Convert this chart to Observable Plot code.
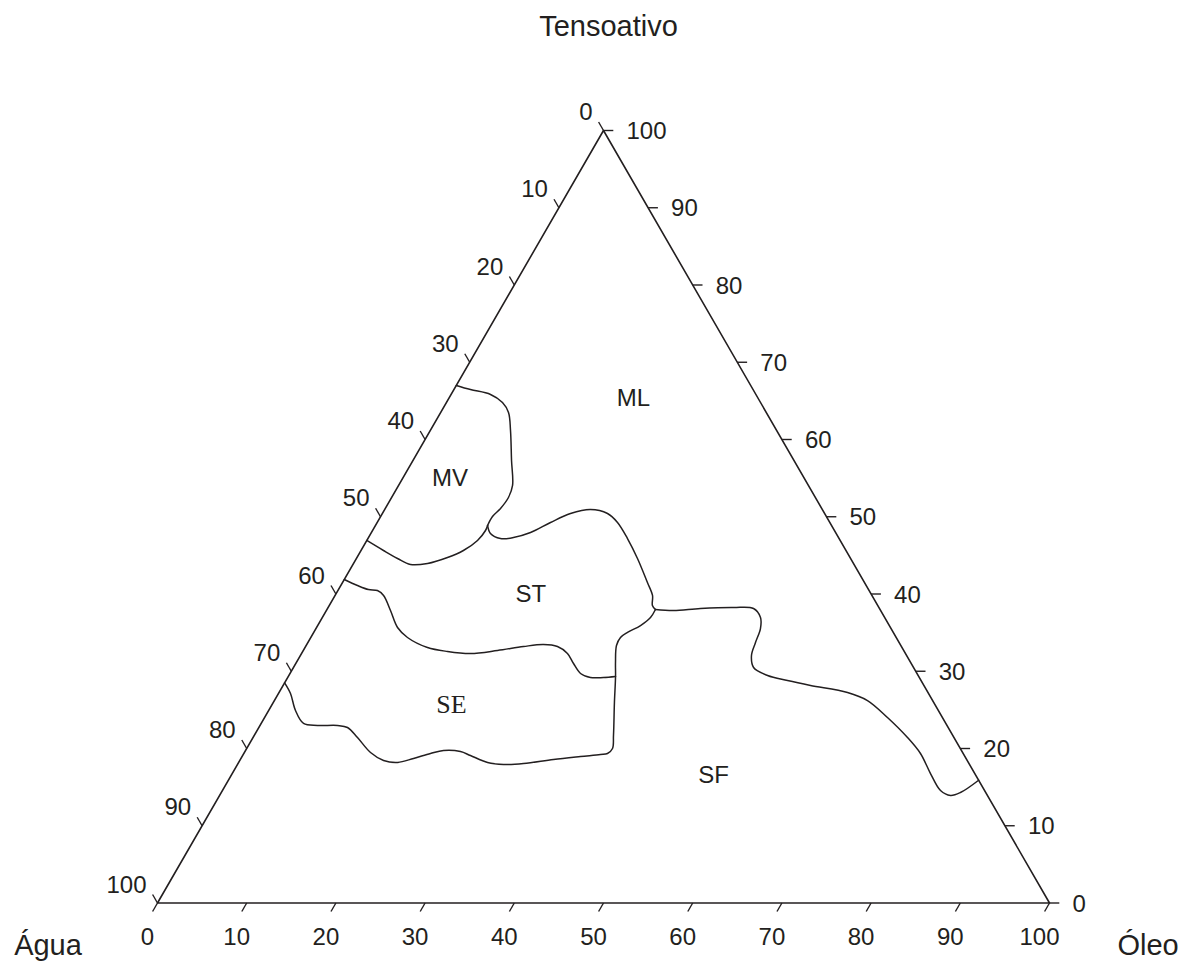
<!DOCTYPE html>
<html>
<head>
<meta charset="utf-8">
<script src="https://cdn.jsdelivr.net/npm/d3@7"></script>
<script src="https://cdn.jsdelivr.net/npm/@observablehq/plot@0.6"></script>
<style>
  html, body { margin: 0; padding: 0; background: #fff; }
  #chart svg { display: block; }
</style>
</head>
<body>
<div id="chart"></div>
<script>
// ---- Data (ternary compositions as [Óleo %, Tensoativo %]; Água = 100 - both) ----
const tickValues = [0, 10, 20, 30, 40, 50, 60, 70, 80, 90, 100];
const axisTitles = ["Tensoativo", "Água", "Óleo"];

const regionNames = ["ML", "MV", "ST", "SE", "SF"];
const regionOleo  = [20.7, 5.3, 21.9, 20.1, 54.1];
const regionTens  = [65.3, 55.0, 39.9, 25.7, 16.5];

// MV upper boundary (left edge -> junction)
const mvTop = [[0, 67.0], [1.85, 66.47], [4.42, 65.83], [6.28, 64.79], [7.60, 63.50], [8.99, 61.17],
  [11.05, 57.28], [12.78, 54.05], [13.10, 52.49], [12.92, 51.07], [12.54, 50.03], [12.57, 48.87]];

// MV lower boundary (left edge -> junction)
const mvBottom = [[0, 46.93], [2.52, 45.63], [4.61, 44.60], [6.45, 43.82], [8.30, 43.95], [10.15, 44.72],
  [11.48, 45.63], [12.41, 46.93], [12.66, 48.22], [12.57, 48.87]];

// ST upper boundary (junction -> triple point)
const stTop = [[12.57, 48.87], [13.41, 47.83], [14.86, 47.18], [16.25, 47.31], [17.84, 47.96], [19.43, 49.26],
  [21.09, 50.42], [23.07, 50.94], [25.24, 50.42], [26.94, 49.26], [29.10, 47.18], [31.51, 44.60],
  [34.18, 41.49], [35.59, 39.81], [36.23, 38.51], [36.83, 37.99]];

// SF boundary (triple point -> right edge)
const sfTop = [[36.83, 37.99], [38.92, 37.86], [41.81, 38.12], [45.44, 38.25], [47.76, 38.12], [49.12, 36.96],
  [49.83, 35.53], [50.18, 33.72], [50.57, 32.04], [51.58, 30.49], [53.67, 29.45], [56.23, 28.80],
  [59.13, 28.16], [63.73, 27.25], [66.49, 26.21], [69.83, 24.01], [73.37, 21.42], [75.86, 19.35],
  [78.28, 16.76], [80.50, 14.56], [81.94, 13.92], [82.87, 14.30], [84.11, 15.89]];

// Right side of ST/SE and lower boundary of SE (triple point -> left edge)
const seOuter = [[36.83, 37.99], [36.79, 36.96], [36.19, 35.92], [35.18, 35.02], [34.72, 34.37], [34.79, 33.33],
  [35.78, 31.13], [36.69, 29.32], [38.25, 25.95], [40.28, 21.68], [41.01, 20.00], [40.77, 19.35],
  [40.05, 19.22], [37.94, 18.96], [35.10, 18.58], [32.00, 18.06], [29.83, 17.93], [27.91, 18.19],
  [25.54, 19.09], [24.16, 19.61], [22.19, 19.74], [20.93, 19.35], [19.35, 18.71], [17.82, 18.19],
  [16.12, 18.45], [14.14, 19.48], [11.71, 21.42], [9.94, 22.72], [8.69, 22.98], [6.45, 22.98],
  [4.75, 23.24], [3.01, 24.92], [1.35, 27.12], [0, 28.5]];

// ST lower boundary / SE upper boundary (left edge -> SE right side)
const stBottom = [[0, 41.88], [1.87, 41.10], [3.36, 40.58], [4.43, 40.45], [5.44, 39.81], [7.19, 37.86],
  [9.08, 35.66], [10.84, 34.37], [13.73, 33.07], [16.23, 32.56], [18.94, 32.30], [21.78, 32.69],
  [24.43, 33.20], [26.54, 33.46], [28.24, 33.20], [29.81, 32.30], [31.14, 31.00], [32.57, 29.71],
  [33.94, 29.19], [35.40, 29.19], [36.69, 29.32]];

// ---- Helpers ----
const S3 = Math.sqrt(3) / 2;
const toXY = ([o, t]) => ({x: o + t / 2, y: t * S3});
const ink = "#231f20";
const font = "Arial, 'Liberation Sans', Helvetica, sans-serif";
const TL = 1.1; // tick length, in percent units

const triangle = [[0, 0], [100, 0], [0, 100], [0, 0]].map(toXY);

const bottomTicks = tickValues.map(v => {const a = toXY([v, 0]), b = toXY([v, -TL]); return {x1: a.x, y1: a.y, x2: b.x, y2: b.y, label: String(v)};});
const leftTicks = tickValues.map(v => {const a = toXY([0, 100 - v]), b = toXY([-TL, 100 - v + TL]); return {x1: a.x, y1: a.y, x2: b.x, y2: b.y, label: String(v)};});
const rightTicks = tickValues.map(v => {const a = toXY([100 - v, v]), b = toXY([100 - v + TL, v]); return {x1: a.x, y1: a.y, x2: b.x, y2: b.y, label: String(v)};});

const regions = regionNames.map((n, i) => ({name: n, ...toXY([regionOleo[i], regionTens[i]])}));

const curves = [mvTop, mvBottom, stTop, sfTop, seOuter, stBottom];

const chart = Plot.plot({
  width: 1184,
  height: 964,
  marginLeft: 157,
  marginRight: 135,
  marginTop: 130,
  marginBottom: 61.5,
  x: {domain: [0, 100], axis: null},
  y: {domain: [0, 100 * S3], axis: null},
  style: {fontFamily: font, background: "#fff", color: ink},
  marks: [
    Plot.line(triangle, {x: "x", y: "y", stroke: ink, strokeWidth: 1.6}),
    ...curves.map(c => Plot.line(c.map(toXY), {x: "x", y: "y", curve: "catmull-rom", stroke: ink, strokeWidth: 1.5})),
    Plot.link(bottomTicks, {x1: "x1", y1: "y1", x2: "x2", y2: "y2", stroke: ink, strokeWidth: 1.4}),
    Plot.link(leftTicks, {x1: "x1", y1: "y1", x2: "x2", y2: "y2", stroke: ink, strokeWidth: 1.4}),
    Plot.link(rightTicks, {x1: "x1", y1: "y1", x2: "x2", y2: "y2", stroke: ink, strokeWidth: 1.4}),
    Plot.text(bottomTicks, {x: "x1", y: "y1", text: "label", dx: -10, dy: 34, fontSize: 24, fill: ink, textAnchor: "middle"}),
    Plot.text(leftTicks, {x: "x1", y: "y1", text: "label", dx: -11, dy: -18, fontSize: 24, fill: ink, textAnchor: "end"}),
    Plot.text(rightTicks, {x: "x1", y: "y1", text: "label", dx: 23, dy: 1, fontSize: 24, fill: ink, textAnchor: "start"}),
    Plot.text(regions.filter(d => d.name !== "SE"), {x: "x", y: "y", text: "name", fontSize: 24, fill: ink}),
    Plot.text(regions.filter(d => d.name === "SE"), {x: "x", y: "y", text: "name", fontSize: 26, fill: ink,
      fontFamily: "'Liberation Serif', 'Times New Roman', serif"}),
    Plot.text([axisTitles[0]], {frameAnchor: "top", lineAnchor: "middle", dx: 5, dy: -104, fontSize: 29, fill: ink}),
    Plot.text([axisTitles[1]], {frameAnchor: "bottom-left", lineAnchor: "middle", dx: -109.5, dy: 43, fontSize: 29, fill: ink, textAnchor: "middle"}),
    Plot.text([axisTitles[2]], {frameAnchor: "bottom-right", lineAnchor: "middle", dx: 98.5, dy: 43, fontSize: 29, fill: ink, textAnchor: "middle"})
  ]
});
document.getElementById("chart").appendChild(chart);
</script>
</body>
</html>
